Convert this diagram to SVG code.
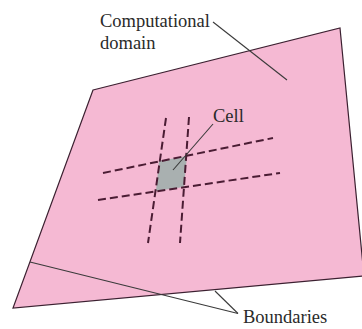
<svg xmlns="http://www.w3.org/2000/svg" width="362" height="329" viewBox="0 0 362 329">
<style>
.lbl{font-family:"Liberation Serif","Times New Roman",serif;font-size:18.5px;fill:#2a2a2a}
.lead{stroke:#3a3a3a;stroke-width:1.1;fill:none}
.grid{stroke:#4a1c33;stroke-width:2;stroke-dasharray:8 4;fill:none}
</style>
<rect width="362" height="329" fill="#ffffff"/>
<g id="domain">
<polygon points="93,90 340,28 364,276 13,308" fill="#f5b9d3" stroke="#3b2030" stroke-width="1.2"/>
</g>
<g id="cell">
<polygon points="159,161 187,156 184,187 156,191" fill="#a9b0b0"/>
</g>
<g id="gridlines">
<line class="grid" x1="103" y1="173" x2="273" y2="138"/>
<line class="grid" x1="98" y1="200" x2="280" y2="173"/>
<line class="grid" x1="166" y1="118" x2="148" y2="243"/>
<line class="grid" x1="189" y1="117" x2="180" y2="243"/>
</g>
<g id="connectors">
<line class="lead" x1="30" y1="262" x2="238" y2="313.5"/>
<line class="lead" x1="215" y1="291" x2="238" y2="313.5"/>
<line class="lead" x1="213" y1="22" x2="287" y2="80"/>
<line class="lead" x1="213" y1="124" x2="173" y2="170"/>
</g>
<g id="label-domain">
<text class="lbl" x="100" y="27">Computational</text>
<text class="lbl" x="100" y="49">domain</text>
</g>
<g id="label-cell">
<text class="lbl" x="213" y="121.5">Cell</text>
</g>
<g id="label-boundaries">
<text class="lbl" x="243" y="323">Boundaries</text>
</g>
</svg>
